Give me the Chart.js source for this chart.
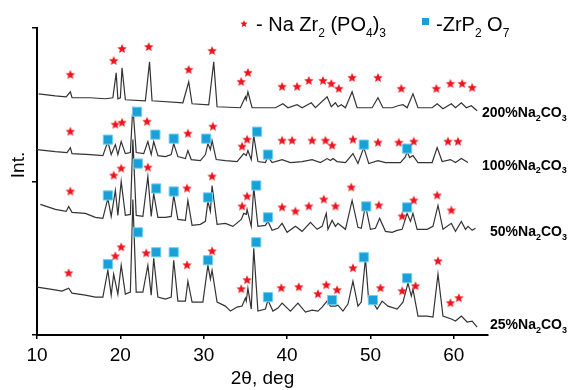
<!DOCTYPE html>
<html>
<head>
<meta charset="utf-8">
<script src="https://cdn.jsdelivr.net/npm/chart.js@4/dist/chart.umd.min.js"></script>
<style>
  html, body { margin: 0; padding: 0; background: #fff; }
  #wrap { width: 571px; height: 390px; }
</style>
</head>
<body>
<div id="wrap"><canvas id="xrd"></canvas></div>
<script>
const trace200 = [
  [10.2,242],[12.2,240],[13.5,239],[14.0,244],[14.2,238],[16.4,238],[18.2,237],[19.1,238],[19.5,263],[19.7,237],
  [20.0,238],[20.2,268],[20.6,236],[23.0,235],[23.5,274],[23.8,235],[27.5,233],[28.2,254],[28.6,232],[30.6,231],
  [31.2,274],[31.6,229],[34.4,228],[35.0,239],[35.1,236],[35.3,244],[35.8,228],[38.6,228],[39.5,232],[40.1,228],
  [41.2,231],[41.8,228],[42.9,233],[43.4,228],[44.8,239],[45.3,229],[45.8,233],[46.1,229],[46.5,231],[47.0,228],
  [47.8,244],[48.4,228],[50.2,228],[50.9,238],[51.5,228],[52.6,228],[53.3,230],[53.9,231],[54.4,228],[55.1,242],
  [55.7,228],[57.4,228],[58.0,232],[58.7,227],[59.7,232],[60.2,228],[60.9,233],[61.5,228],[62.1,230],[62.8,225]
];
const trace100 = [
  [10.0,186],[12.2,184],[13.6,183],[14.0,188],[14.2,182],[16.4,181],[17.9,180],[18.5,194],[18.9,181],[19.4,191],
  [19.7,181],[20.1,194],[20.6,182],[21.2,183],[21.5,229],[21.9,183],[22.8,182],[23.3,194],[23.7,181],[24.0,194],
  [24.5,180],[25.4,179],[26.1,181],[26.4,192],[26.9,179],[27.8,177],[28.1,185],[28.5,176],[29.6,175],[30.2,181],
  [30.5,192],[30.8,186],[31.0,195],[31.5,176],[32.6,175],[34.0,174],[34.8,182],[35.1,180],[35.3,185],[35.7,176],
  [36.0,200],[36.5,174],[37.4,173],[37.7,179],[38.2,173],[39.4,176],[40.4,173],[41.8,174],[43.0,176],[44.0,173],
  [44.8,177],[45.2,175],[45.5,177],[46.0,174],[47.0,173],[47.9,182],[48.5,172],[49.2,188],[49.8,172],[50.9,175],
  [51.8,173],[53.6,173],[54.2,179],[54.4,184],[54.7,178],[55.1,180],[55.7,173],[57.4,173],[58.0,188],[58.6,174],
  [59.6,176],[60.2,173],[60.9,177],[61.7,173]
];
const trace50 = [
  [10.4,131],[12.2,126],[13.5,124],[13.8,129],[14.2,123],[15.8,122],[17.0,118],[17.9,117],[18.5,137],[18.9,119],
  [19.4,145],[19.7,120],[20.1,154],[20.6,120],[21.2,121],[21.5,196],[21.9,120],[22.7,119],[23.3,159],[23.7,119],
  [24.0,142],[24.5,118],[25.4,118],[26.1,119],[26.4,140],[26.9,116],[27.8,115],[28.1,135],[28.6,110],[29.6,111],
  [30.2,114],[30.5,134],[30.8,124],[31.0,150],[31.6,111],[32.6,112],[33.5,109],[34.5,116],[34.8,122],[35.1,121],
  [35.2,126],[35.7,109],[36.0,148],[36.5,109],[37.4,110],[37.7,114],[38.2,105],[38.9,107],[39.4,112],[40.0,103],
  [41.0,109],[41.8,104],[42.8,113],[43.6,106],[44.2,109],[44.7,122],[44.9,106],[45.4,115],[45.8,109],[46.1,112],
  [47.0,106],[47.8,135],[48.5,108],[48.9,107],[49.4,130],[50.0,106],[50.6,107],[51.1,117],[51.8,104],[52.6,103],
  [53.2,105],[53.8,106],[54.4,122],[54.8,114],[55.1,122],[55.6,106],[56.8,106],[57.5,109],[58.1,130],[58.7,106],
  [59.7,112],[60.2,104],[60.9,114],[61.4,106],[61.7,109],[62.2,105],[62.6,107]
];
const trace25 = [
  [10.0,48],[11.6,46],[13.0,44],[13.8,47],[14.2,42],[15.8,40],[17.0,38],[17.9,38],[18.5,65],[18.9,40],
  [19.2,61],[19.7,41],[20.1,70],[20.6,41],[21.2,43],[21.5,136],[21.9,43],[22.7,43],[23.3,70],[23.7,40],
  [24.0,77],[24.5,38],[25.4,36],[26.1,38],[26.4,75],[26.9,34],[27.8,34],[28.1,54],[28.6,33],[29.9,33],
  [30.5,70],[30.8,56],[31.0,65],[31.6,33],[32.6,29],[33.2,24],[34.0,28],[34.6,29],[35.0,37],[35.1,34],
  [35.3,47],[35.7,26],[36.0,87],[36.5,24],[37.4,26],[37.7,35],[38.3,24],[38.9,27],[39.4,32],[40.4,24],
  [41.3,32],[42.2,23],[43.0,25],[43.7,24],[44.2,28],[44.8,34],[45.2,29],[45.8,29],[46.1,30],[46.7,24],
  [47.3,31],[47.9,54],[48.5,29],[48.9,33],[49.4,77],[49.8,33],[50.3,33],[50.8,26],[51.4,34],[52.1,29],
  [53.2,26],[53.9,33],[54.5,52],[54.9,39],[55.1,46],[55.7,19],[56.8,19],[57.5,18],[58.1,61],[58.7,19],
  [59.7,16],[60.2,14],[60.9,19],[61.6,13],[62.2,14],[62.8,8]
];

// Marcadores de fase: estrelas = NaZr2(PO4)3, quadrados = ZrP2O7
const stars200 = [
  [14.0,261],[19.2,275],[20.2,287],[23.4,289],[28.2,266],[31.0,285],[34.5,254],[35.3,263],[39.4,249],[41.2,249],
  [42.6,255],[44.3,255],[45.3,252],[46.2,247],[47.8,258],[50.9,258],[53.7,247],[57.9,247],[59.6,252],[61.0,252],[62.2,248]
];
const stars100 = [
  [14.0,204],[19.4,211],[20.2,213],[23.2,214],[28.1,202],[31.1,209],[34.6,189],[35.2,196],[39.4,195],[40.6,195],
  [43.0,195],[44.6,195],[45.4,190],[47.9,196],[50.9,193],[53.4,193],[55.2,194],[59.3,194],[60.5,194]
];
const squares100 = [[18.5,196],[22.0,224],[24.2,201],[26.4,197],[30.3,197],[36.4,204],[37.7,181],[49.2,191],[54.4,187]];
const stars50 = [
  [14.0,144],[19.2,160],[20.1,167],[23.3,168],[28.0,147],[31.0,159],[34.6,129],[35.2,139],[39.4,128],[41.0,124],
  [42.6,129],[44.4,136],[45.8,129],[47.7,148],[51.0,130],[53.8,119],[55.2,135],[58.0,140],[59.7,125]
];
const squares50 = [[18.5,140],[22.1,172],[24.3,147],[26.4,144],[30.5,138],[36.3,150],[37.7,118],[49.5,129],[54.4,128]];
const stars25 = [
  [13.8,62],[19.4,79],[20.1,88],[23.1,82],[28.0,70],[31.0,84],[34.5,46],[35.2,55],[39.3,47],[41.4,48],
  [43.7,41],[44.7,50],[46.0,45],[47.9,67],[51.2,47],[53.8,44],[55.4,49],[58.1,74],[59.6,32],[60.6,37]
];
const squares25 = [[18.5,71],[22.1,103],[24.3,83],[26.4,83],[30.5,75],[36.3,93],[37.7,38],[45.4,35],[49.2,78],[50.3,35],[54.4,57]];

// Rótulos das amostras e nível vertical de cada um
const sampleNames = ['200%', '100%', '50%', '25%'];
const sampleLevels = [224, 171, 104, 11];
const xTicks = [10, 20, 30, 40, 50, 60];

const RED = '#f0141e';
const BLUE = '#1aa0d8';
const FONT = "'Liberation Sans', Arial, sans-serif";

// estrela preenchida como imagem para o pointStyle
function makeStar(r) {
  const c = document.createElement('canvas');
  const s = Math.ceil(r * 2 + 2);
  c.width = s; c.height = s;
  const g = c.getContext('2d');
  g.fillStyle = RED;
  g.beginPath();
  for (let i = 0; i < 10; i++) {
    const rad = i % 2 === 0 ? r : r * 0.45;
    const a = -Math.PI / 2 + i * Math.PI / 5;
    g.lineTo(s / 2 + rad * Math.cos(a), s / 2 + rad * Math.sin(a));
  }
  g.closePath();
  g.fill();
  return c;
}
const starImg = makeStar(5);
const starSmall = makeStar(3.8);

const toXY = arr => arr.map(p => ({ x: p[0], y: p[1] }));

const traceDs = (data) => ({
  type: 'line', data: toXY(data), borderColor: '#333', borderWidth: 1.2,
  pointRadius: 0, tension: 0, fill: false, order: 2
});
const starDs = (data) => ({
  type: 'scatter', data: toXY(data), pointStyle: starImg, pointRadius: 5, order: 1
});
const squareDs = (data) => ({
  type: 'scatter', data: toXY(data), pointStyle: 'rect', pointRadius: 6.5,
  backgroundColor: BLUE, borderColor: '#6fd0f2', borderWidth: 1, order: 1
});

// escreve texto com subscritos: partes [texto, subscrito?]
function richText(ctx, parts, x, y, size, weight) {
  let cx = x;
  parts.forEach(([t, sub]) => {
    const fs = sub ? Math.round(size * 0.62) : size;
    ctx.font = `${weight} ${fs}px ${FONT}`;
    ctx.fillText(t, cx, sub ? y + size * 0.28 : y);
    cx += ctx.measureText(t).width;
  });
}

const annotations = {
  id: 'annotations',
  afterDraw(chart) {
    const ctx = chart.ctx;
    const yS = chart.scales.y;
    const area = chart.chartArea;
    ctx.save();
    ctx.fillStyle = '#000';
    ctx.textBaseline = 'alphabetic';
    ctx.textAlign = 'left';

    // legenda
    ctx.drawImage(starSmall, 244 - starSmall.width / 2, 24 - starSmall.height / 2);
    richText(ctx, [['- Na Zr'], ['2', true], [' (PO'], ['4', true], [')'], ['3', true]], 256, 31, 20, 'normal');
    ctx.fillStyle = BLUE;
    ctx.fillRect(422, 18, 7, 7);
    ctx.fillStyle = '#000';
    richText(ctx, [['-ZrP'], ['2', true], [' O'], ['7', true]], 436, 31, 20, 'normal');

    // rótulo do eixo Y
    ctx.save();
    ctx.translate(24, 165);
    ctx.rotate(-Math.PI / 2);
    ctx.textAlign = 'center';
    ctx.font = `19px ${FONT}`;
    ctx.fillText('Int.', 0, 0);
    ctx.restore();

    // nomes das amostras
    sampleNames.forEach((name, i) => {
      const y = yS.getPixelForValue(sampleLevels[i]) + 5;
      const x = area.right - 6 + (name.length < 4 ? 8 : 0);
      richText(ctx, [[name + 'Na'], ['2', true], ['CO'], ['3', true]], x, y, 14, 'bold');
    });
    ctx.restore();
  }
};

new Chart(document.getElementById('xrd'), {
  data: {
    datasets: [
      traceDs(trace200), traceDs(trace100), traceDs(trace50), traceDs(trace25),
      starDs(stars200), starDs(stars100), starDs(stars50), starDs(stars25),
      squareDs(squares100), squareDs(squares50), squareDs(squares25)
    ]
  },
  options: {
    responsive: true,
    maintainAspectRatio: false,
    animation: false,
    layout: { padding: { top: 28, right: 83, left: 0, bottom: 0 } },
    plugins: { legend: { display: false }, tooltip: { enabled: false } },
    scales: {
      x: {
        type: 'linear', min: 10, max: 64.1,
        afterFit: s => { s.height = 55; },
        afterBuildTicks: s => { s.ticks = xTicks.map(v => ({ value: v })); },
        border: { color: '#000', width: 2 },
        grid: { display: true, drawOnChartArea: false, drawTicks: true, tickLength: 4, color: '#000', lineWidth: 1.5 },
        ticks: { color: '#000', padding: 5, font: { family: FONT, size: 19 }, maxRotation: 0 },
        title: { display: true, text: '2θ, deg', color: '#000', padding: { top: 0, bottom: 0 }, font: { family: FONT, size: 19 } }
      },
      y: {
        type: 'linear', min: 0, max: 308,
        afterFit: s => { s.width = 37; },
        border: { color: '#000', width: 2 },
        grid: { display: true, drawOnChartArea: false, drawTicks: true, tickLength: 5, color: '#000', lineWidth: 1.5 },
        ticks: { stepSize: 154, callback: () => '' }
      }
    }
  },
  plugins: [annotations]
});
</script>
</body>
</html>
